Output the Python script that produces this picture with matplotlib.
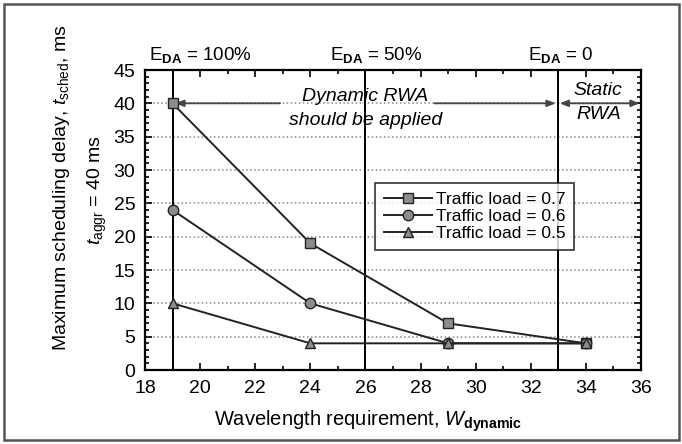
import matplotlib
matplotlib.use("Agg")
import matplotlib.pyplot as plt
from matplotlib.ticker import MultipleLocator
from matplotlib.patches import Rectangle

plt.rcParams['font.family'] = ['Liberation Sans', 'DejaVu Sans']
plt.rcParams['mathtext.fontset'] = 'custom'
plt.rcParams['mathtext.rm'] = 'Liberation Sans'
plt.rcParams['mathtext.it'] = 'Liberation Sans:italic'
plt.rcParams['mathtext.bf'] = 'Liberation Sans:bold'

# data
wavelengths = [19, 24, 29, 34]
load_07 = [40, 19, 7, 4]
load_06 = [24, 10, 4, 4]
load_05 = [10, 4, 4, 4]
series_labels = ['Traffic load = 0.7', 'Traffic load = 0.6', 'Traffic load = 0.5']
boundaries = [19, 26, 33]
eda_labels = [r'E$_{\mathbf{DA}}$ = 100%', r'E$_{\mathbf{DA}}$ = 50%', r'E$_{\mathbf{DA}}$ = 0']
eda_label_x = [20.0, 26.4, 33.1]

fig = plt.figure(figsize=(6.82, 4.44), dpi=100)
ax = fig.add_axes([145/682, 74/444, 496/682, 300/444])

# outer frame around the whole figure
fig.patches.append(Rectangle((4/682, 4/444), 675/682, 436/444, transform=fig.transFigure,
                             fill=False, ec='#555555', lw=1.8))

ax.set_xlim(18, 36)
ax.set_ylim(0, 45)
ax.xaxis.set_major_locator(MultipleLocator(2))
ax.xaxis.set_minor_locator(MultipleLocator(1))
ax.yaxis.set_major_locator(MultipleLocator(5))
ax.yaxis.set_minor_locator(MultipleLocator(1))
ax.tick_params(which='both', direction='in', top=True, right=True, width=1.2)
ax.tick_params(which='major', length=5)
ax.tick_params(which='minor', length=3)
ax.tick_params(axis='y', labelsize=14, pad=7)
ax.tick_params(axis='x', labelsize=14, pad=7)
for s in ax.spines.values():
    s.set_linewidth(1.6)
ax.yaxis.grid(True, linestyle=':', color='#888888', lw=1.1)
ax.set_axisbelow(True)

for b in boundaries:
    ax.axvline(b, color='black', lw=1.4, zorder=2)

mk = dict(color='#222222', lw=1.4, markersize=7.5, markerfacecolor='#8c8c8c',
          markeredgecolor='#222222', markeredgewidth=1.0, zorder=4)
ax.plot(wavelengths, load_07, marker='s', label=series_labels[0], **mk)
ax.plot(wavelengths, load_06, marker='o', label=series_labels[1], **mk)
ax.plot(wavelengths, load_05, marker='^', label=series_labels[2], **mk)

leg = ax.legend(loc='upper left', bbox_to_anchor=(0.464, 0.623), borderaxespad=0,
                fontsize=12.5, frameon=True, fancybox=False, edgecolor='black',
                handlelength=2.8, handletextpad=0.2, labelspacing=0.12, borderpad=0.5)
leg.get_frame().set_linewidth(1.2)

# arrows and region notes
arr = dict(arrowstyle='-|>,head_length=0.5,head_width=0.2', color='#444444', lw=1.3,
           shrinkA=0, shrinkB=0)
ax.annotate('', xy=(19.1, 40), xytext=(22.9, 40), arrowprops=arr)
ax.annotate('', xy=(32.9, 40), xytext=(28.5, 40), arrowprops=arr)
ax.annotate('', xy=(35.95, 40), xytext=(33.05, 40),
            arrowprops=dict(arrowstyle='<|-|>,head_length=0.5,head_width=0.2',
                            color='#444444', lw=1.3, shrinkA=0, shrinkB=0))
ax.text(26.0, 41.0, 'Dynamic RWA', ha='center', va='center', fontsize=14, style='italic')
ax.text(26.0, 37.5, 'should be applied', ha='center', va='center', fontsize=14, style='italic')
ax.text(34.45, 41.9, 'Static', ha='center', va='center', fontsize=14, style='italic')
ax.text(34.45, 38.4, 'RWA', ha='center', va='center', fontsize=14, style='italic')

for lab, x in zip(eda_labels, eda_label_x):
    ax.text(x, 47.2, lab, ha='center', va='center', fontsize=13.5, clip_on=False)

ax.set_xlabel(r'Wavelength requirement, $\mathit{W}_{\mathbf{dynamic}}$', fontsize=14.5)
ax.xaxis.set_label_coords(0.45, -0.128)

fig.text(62/682, 1 - 188/444, r'Maximum scheduling delay, $t_{\mathrm{sched}}$, ms',
         rotation=90, ha='center', va='center', fontsize=14)
fig.text(97/682, 1 - 190/444, r'$t_{\mathrm{aggr}}$ = 40 ms',
         rotation=90, ha='center', va='center', fontsize=14)

fig.savefig('out.png', dpi=100)
